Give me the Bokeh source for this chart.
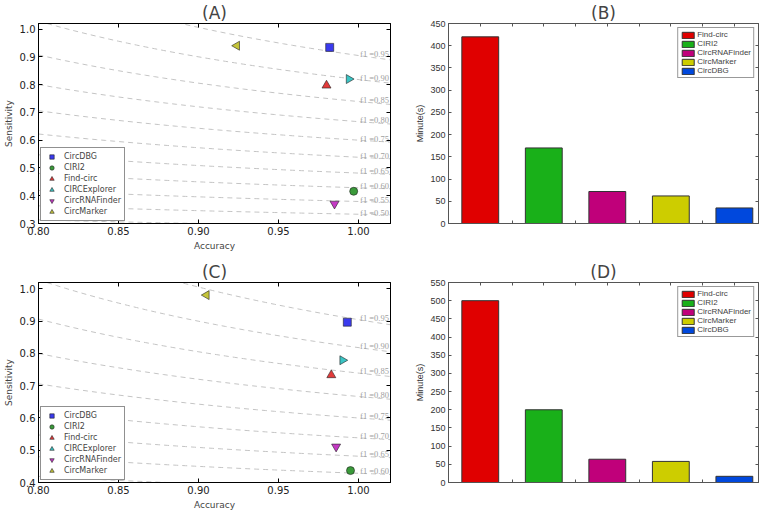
import math
import numpy as np
from bokeh.plotting import figure
from bokeh.layouts import column, row
from bokeh.models import (ColumnDataSource, LinearAxis, Range1d, FixedTicker,
                          NumeralTickFormatter, CustomJSTickFormatter)
from bokeh.core.properties import value
from bokeh.embed import file_html
from bokeh.resources import INLINE

# ---------------- data ----------------
tools = ["CircDBG", "CIRI2", "Find-circ", "CIRCExplorer", "CircRNAFinder", "CircMarker"]
acc_A = [0.982, 0.997, 0.980, 0.994, 0.985, 0.924]
sens_A = [0.934, 0.416, 0.797, 0.820, 0.371, 0.940]
acc_C = [0.993, 0.995, 0.983, 0.990, 0.986, 0.905]
sens_C = [0.897, 0.437, 0.733, 0.779, 0.511, 0.981]
f1_levels = [0.30, 0.35, 0.40, 0.45, 0.50, 0.55, 0.60, 0.65, 0.70, 0.75, 0.80, 0.85, 0.90, 0.95]
acc_ticks = [0.80, 0.85, 0.90, 0.95, 1.00]
sens_ticks_A = [0.3, 0.4, 0.5, 0.6, 0.7, 0.8, 0.9, 1.0]
sens_ticks_C = [0.4, 0.5, 0.6, 0.7, 0.8, 0.9, 1.0]

bar_tools = ["Find-circ", "CIRI2", "CircRNAFinder", "CircMarker", "CircDBG"]
minutes_B = [420, 170, 72, 62, 35]
minutes_D = [500, 200, 64, 58, 17]
minute_ticks_B = list(range(0, 451, 50))
minute_ticks_D = list(range(0, 551, 50))

# ---------------- styles ----------------
marker_kind = ["square", "circle", "triangle", "triangle", "inverted_triangle", "triangle"]
marker_angle = [0, 0, 0, -math.pi / 2, 0, math.pi / 2]
marker_size = [8, 8, 9, 9, 9, 9]
marker_color = ["#3a3aee", "#3a9a3a", "#e23a3a", "#3ac4c4", "#c43ac4", "#c4c43a"]
bar_color = ["#e00000", "#19b019", "#c0007a", "#cdcd00", "#0048dd"]

EMPTY = CustomJSTickFormatter(code="return ''")
FRAME_H = 200


def style_title(p, text):
    p.title.text = text
    p.title.align = "center"
    p.title.text_font = "DejaVu Sans"
    p.title.text_font_size = "17px"
    p.title.text_font_style = "normal"
    p.title.standoff = 1
    p.title.offset = 0


def scatter_panel(title, acc, sens, ymin, yticks):
    p = figure(frame_width=352, frame_height=FRAME_H, x_range=Range1d(0.80, 1.02),
               y_range=Range1d(ymin, 1.02), output_backend="svg", toolbar_location=None,
               min_border_left=30, min_border_right=4, min_border_top=0, min_border_bottom=36)
    style_title(p, title)
    p.xgrid.visible = False
    p.ygrid.visible = False
    p.outline_line_color = "black"

    # iso-F1 dashed curves
    xs_curve = np.linspace(0.80, 1.02, 80)
    cx, cy = [], []
    for f in f1_levels:
        cx.append(list(xs_curve))
        cy.append(list(f * xs_curve / (2 * xs_curve - f)))
    p.multi_line(cx, cy, line_color="#c4c4c4", line_width=1, line_dash="5 4")
    lab_f = [f for f in f1_levels if ymin + 0.01 < f / (2 - f) < 1.0]
    lab_y = [f / (2 - f) + 0.006 for f in lab_f]
    lab_t = ["f1 =%.2f" % f for f in lab_f]
    p.text(x=[1.001] * len(lab_f), y=lab_y, text=lab_t,
           text_font=value("Liberation Serif"), text_font_size="8.5px", text_color="#a0a0a0",
           text_baseline="middle", text_align="left")

    for i, t in enumerate(tools):
        p.scatter(x=[acc[i]], y=[sens[i]], marker=marker_kind[i], angle=marker_angle[i],
                  size=marker_size[i], fill_color=marker_color[i], line_color="#222222",
                  line_width=0.6, legend_label=t)

    for ax, ticks, fmt, lab in ((p.xaxis[0], acc_ticks, "0.00", "Accuracy"),
                                (p.yaxis[0], yticks, "0.0", "Sensitivity")):
        ax.ticker = FixedTicker(ticks=ticks)
        ax.formatter = NumeralTickFormatter(format=fmt)
        ax.axis_label = lab
        ax.axis_label_text_font = "DejaVu Sans"
        ax.axis_label_text_font_size = "9px"
        ax.axis_label_text_font_style = "normal"
        ax.axis_label_standoff = 3
        ax.major_label_text_font = "DejaVu Sans"
        ax.major_label_text_font_size = "10px"
        ax.major_label_text_color = "#222222"
        ax.major_label_standoff = 3
        ax.major_tick_in = 4
        ax.major_tick_out = 0
        ax.minor_tick_line_color = None
        ax.axis_line_color = "black"
    top = LinearAxis(ticker=FixedTicker(ticks=acc_ticks), formatter=EMPTY,
                     major_tick_in=4, major_tick_out=0, minor_tick_line_color=None,
                     major_label_standoff=0, major_label_text_font_size="1px")
    right = LinearAxis(ticker=FixedTicker(ticks=yticks), formatter=EMPTY,
                       major_tick_in=4, major_tick_out=0, minor_tick_line_color=None,
                       major_label_standoff=0, major_label_text_font_size="1px")
    p.add_layout(top, "above")
    p.add_layout(right, "right")

    lg = p.legend[0]
    lg.location = "bottom_left"
    lg.margin = 2
    lg.padding = 3
    lg.spacing = 0
    lg.glyph_width = 15
    lg.glyph_height = 11
    lg.label_height = 10
    lg.label_standoff = 5
    lg.label_text_font = "DejaVu Sans"
    lg.label_text_font_size = "8px"
    lg.border_line_color = "#222222"
    lg.border_line_width = 1
    lg.background_fill_alpha = 1
    return p


def bar_panel(title, values, ymax, yticks):
    xs = list(range(1, len(bar_tools) + 1))
    src = ColumnDataSource(dict(x=xs, top=values, name=bar_tools, color=bar_color))
    p = figure(frame_width=310, frame_height=FRAME_H, x_range=Range1d(0.5, 5.38),
               y_range=Range1d(0, ymax), output_backend="svg", toolbar_location=None,
               min_border_left=54, min_border_right=2, min_border_top=0, min_border_bottom=36)
    style_title(p, title)
    p.xgrid.visible = False
    p.ygrid.visible = False
    p.outline_line_color = "#555555"
    p.vbar(x="x", top="top", width=0.58, fill_color="color", line_color="#333333",
           line_width=1, source=src, legend_field="name")

    half = [1 + 0.5 * k for k in range(9)]
    mids = [1.5, 2.5, 3.5, 4.5]
    xa = p.xaxis[0]
    xa.ticker = FixedTicker(ticks=mids)
    xa.formatter = EMPTY
    xa.major_label_text_font_size = "1px"
    xa.major_tick_in = 3
    xa.major_tick_out = 0
    xa.minor_tick_line_color = None
    xa.axis_line_color = "#555555"
    xa.major_tick_line_color = "#555555"

    ya = p.yaxis[0]
    ya.ticker = FixedTicker(ticks=yticks)
    ya.axis_label = "Minute(s)"
    ya.axis_label_text_font = "Liberation Sans"
    ya.axis_label_text_font_size = "9px"
    ya.axis_label_text_font_style = "normal"
    ya.axis_label_text_color = "#333333"
    ya.axis_label_standoff = 2
    ya.major_label_text_font = "Liberation Sans"
    ya.major_label_text_font_size = "9px"
    ya.major_label_text_color = "#333333"
    ya.major_label_standoff = 3
    ya.major_tick_in = 3
    ya.major_tick_out = 0
    ya.minor_tick_line_color = None
    ya.axis_line_color = "#555555"
    ya.major_tick_line_color = "#555555"

    top = LinearAxis(ticker=FixedTicker(ticks=half), formatter=EMPTY,
                     major_tick_in=3, major_tick_out=0, minor_tick_line_color=None,
                     major_label_standoff=0, major_label_text_font_size="1px",
                     axis_line_color="#555555", major_tick_line_color="#555555")
    right = LinearAxis(ticker=FixedTicker(ticks=yticks), formatter=EMPTY,
                       major_tick_in=3, major_tick_out=0, minor_tick_line_color=None,
                       major_label_standoff=0, major_label_text_font_size="1px",
                       axis_line_color="#555555", major_tick_line_color="#555555")
    p.add_layout(top, "above")
    p.add_layout(right, "right")

    lg = p.legend[0]
    lg.location = "top_right"
    lg.margin = 4
    lg.padding = 2
    lg.spacing = 0
    lg.glyph_width = 15
    lg.glyph_height = 8
    lg.label_height = 8
    lg.label_standoff = 2
    lg.label_text_font = "Liberation Sans"
    lg.label_text_font_size = "8px"
    lg.border_line_color = "#333333"
    lg.border_line_width = 1
    return p


pA = scatter_panel("(A)", acc_A, sens_A, 0.3, sens_ticks_A)
pB = bar_panel("(B)", minutes_B, 450, minute_ticks_B)
pC = scatter_panel("(C)", acc_C, sens_C, 0.4, sens_ticks_C)
pD = bar_panel("(D)", minutes_D, 550, minute_ticks_D)

layout = column(row(pA, pB), row(pC, pD))
open("out.html", "w").write(file_html(layout, INLINE))
